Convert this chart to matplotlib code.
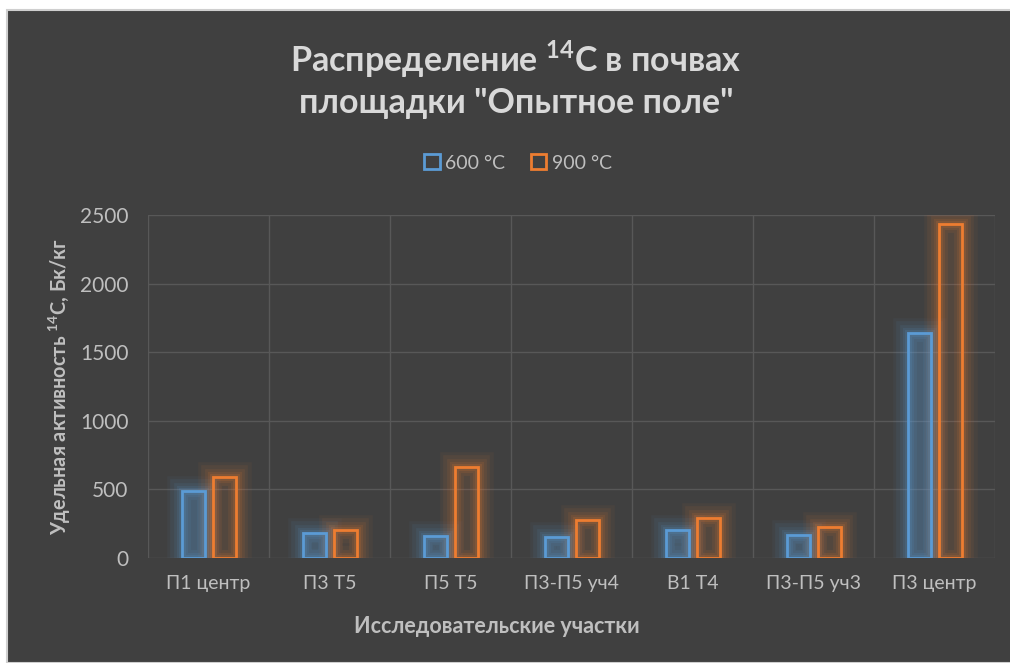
import numpy as np
import matplotlib.pyplot as plt
from matplotlib.patches import Rectangle

plt.rcParams['font.family'] = ['Lato', 'DejaVu Sans']
plt.rcParams['mathtext.fontset'] = 'custom'
plt.rcParams['mathtext.rm'] = 'Lato'
plt.rcParams['mathtext.bf'] = 'Lato:bold'

# Specific activity of 14C, Bq/kg, per sampling site
sites = ['П1 центр', 'П3 Т5', 'П5 Т5', 'П3-П5 уч4', 'В1 Т4', 'П3-П5 уч3', 'П3 центр']
temp_labels = ['600 °C', '900 °C']
act_600 = [485, 180, 160, 150, 204, 168, 1642]
act_900 = [590, 204, 663, 274, 292, 223, 2435]
yticks = [0, 500, 1000, 1500, 2000, 2500]

BG = '#404040'
TXT = '#bfbfbf'
BLUE = '#5b9bd5'
ORANGE = '#ed7d31'

fig = plt.figure(figsize=(10.10, 6.63), dpi=100, facecolor='white')
fig.patches.append(Rectangle((7 / 1010, 0), 1, 1 - 10 / 663, transform=fig.transFigure,
                             facecolor=BG, edgecolor='#cfcfcf', linewidth=1.5, zorder=-10))

ax = fig.add_axes([148 / 1010, 1 - 558 / 663, 847 / 1010, 343 / 663])
ax.set_facecolor(BG)

x = np.arange(len(sites))
w = 0.19
offsets = [-0.12, 0.13]


def glow_bars(xpos, vals, color, face):
    # soft halo: stacked wide, faint outlines
    for lw, a in [(22, 0.05), (17, 0.07), (12, 0.09), (8, 0.11), (5, 0.14)]:
        ax.bar(xpos, vals, w, facecolor='none', edgecolor=color, linewidth=lw,
               alpha=a, zorder=2)
    return ax.bar(xpos, vals, w, facecolor=face, edgecolor=color, linewidth=2, zorder=3)


b1 = glow_bars(x + offsets[0], act_600, BLUE, (0.36, 0.61, 0.84, 0.25))
b2 = glow_bars(x + offsets[1], act_900, ORANGE, 'none')

ax.set_xlim(-0.5, len(sites) - 0.5)
ax.set_ylim(0, 2500)
ax.set_yticks(yticks)
ax.set_xticks(x)
ax.set_xticklabels(sites)
ax.set_xticks(np.arange(len(sites) + 1) - 0.5, minor=True)
ax.grid(True, axis='y', color='#585858', linewidth=1, zorder=0)
ax.grid(True, axis='x', which='minor', color='#585858', linewidth=1, zorder=0)
ax.set_axisbelow(True)
for s in ax.spines.values():
    s.set_visible(False)
ax.tick_params(axis='both', which='both', length=0, colors=TXT, labelsize=14)
ax.tick_params(axis='y', labelsize=15, pad=14)
ax.tick_params(axis='x', pad=12)

ax.set_ylabel('Удельная активность $^{\\mathbf{14}}$С, Бк/кг', fontsize=14.3,
              fontweight='bold', color=TXT, va='center')
ax.yaxis.set_label_coords(-0.104, 0.5)
ax.set_xlabel('Исследовательские участки', fontsize=15.5, fontweight='bold',
              color=TXT, va='center')
ax.xaxis.set_label_coords(0.412, -0.201)

fig.text(516 / 1010, 1 - 78.5 / 663,
         'Распределение $^{\\mathbf{14}}$С в почвах\nплощадки "Опытное поле"',
         ha='center', va='center', fontsize=24.5, fontweight='bold', color='#d9d9d9',
         linespacing=1.3)

h1 = Rectangle((0, 0), 1, 1, facecolor='none', edgecolor=BLUE, linewidth=2)
h2 = Rectangle((0, 0), 1, 1, facecolor='none', edgecolor=ORANGE, linewidth=2)
leg = fig.legend([h1, h2], temp_labels, loc='center', bbox_to_anchor=(518 / 1010, 1 - 163 / 663),
                 ncol=2, frameon=False, fontsize=14, handlelength=0.8, handleheight=0.8,
                 handletextpad=0.3, columnspacing=1.3, labelcolor=TXT)

fig.savefig('out.png', dpi=100, facecolor=fig.get_facecolor())
